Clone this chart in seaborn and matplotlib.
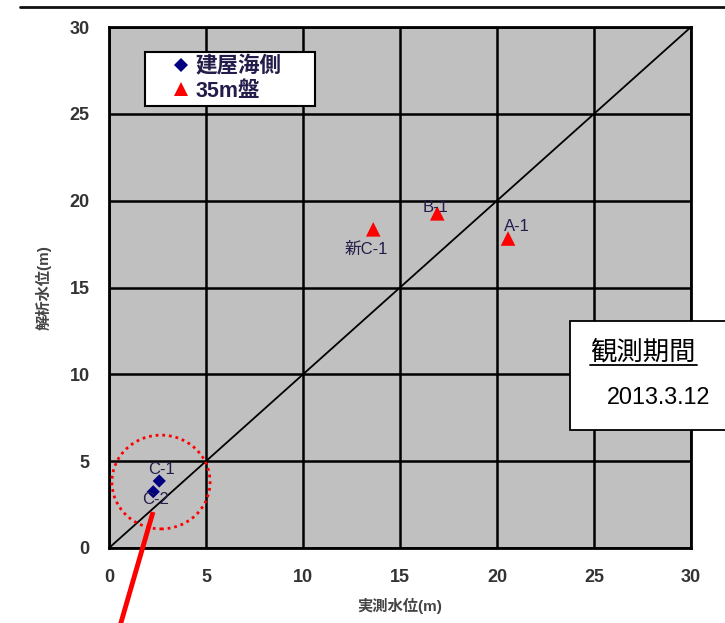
import matplotlib
matplotlib.use("Agg")
import matplotlib.pyplot as plt
from matplotlib.patches import Ellipse, Rectangle
from matplotlib.lines import Line2D
import seaborn as sns
import pandas as pd

# --- data -------------------------------------------------------------
groups = ["建屋海側", "35m盤"]
bldg_names = ["C-1", "C-2"]
bldg_measured = [2.59, 2.28]
bldg_analysed = [3.86, 3.24]
plat_names = ["新C-1", "B-1", "A-1"]
plat_measured = [13.62, 16.92, 20.57]
plat_analysed = [18.35, 19.27, 17.82]
ticks = [0, 5, 10, 15, 20, 25, 30]
x_label = "実測水位(m)"
y_label = "解析水位(m)"
period_title = "観測期間"
period_value = "2013.3.12"

df = pd.DataFrame({
    "measured": bldg_measured + plat_measured,
    "analysed": bldg_analysed + plat_analysed,
    "name": bldg_names + plat_names,
    "group": [groups[0]] * len(bldg_names) + [groups[1]] * len(plat_names),
})

# --- style ------------------------------------------------------------
sns.set_theme(style="white")
plt.rcParams["font.family"] = ["Liberation Sans", "Noto Sans CJK JP"]

W, H = 725, 623
fig = plt.figure(figsize=(W / 100, H / 100), dpi=100)
ax = fig.add_axes([109 / W, 75 / H, 582 / W, 521 / H])
ax.set_facecolor("#c0c0c0")

sns.scatterplot(
    data=df, x="measured", y="analysed", hue="group", style="group",
    palette={groups[0]: "#000080", groups[1]: "#ff0000"},
    markers={groups[0]: "D", groups[1]: "^"},
    size="group", sizes={groups[0]: 45, groups[1]: 110},
    edgecolor="none", linewidth=0, ax=ax, zorder=5, legend="full",
)

# y = x reference line
ax.plot([ticks[0], ticks[-1]], [ticks[0], ticks[-1]], color="black", lw=1.3, zorder=3)

ax.set_xlim(ticks[0], ticks[-1])
ax.set_ylim(ticks[0], ticks[-1])
ax.set_xticks(ticks)
ax.set_yticks(ticks)
ax.grid(True, color="black", lw=1.8, zorder=2)
ax.set_axisbelow(True)
for sp in ax.spines.values():
    sp.set_color("black")
    sp.set_linewidth(2)
ax.tick_params(length=0, labelsize=13, labelcolor="#333333")
ax.tick_params(axis="x", pad=15)
ax.tick_params(axis="y", pad=14)
for lab in ax.get_xticklabels() + ax.get_yticklabels():
    lab.set_fontweight("bold")

ax.set_xlabel(x_label, fontsize=11, color="#444444", fontweight="bold", labelpad=9)
ax.set_ylabel(y_label, fontsize=11, color="#444444", fontweight="bold", labelpad=13)

# point labels
offsets = {"C-1": (1.4, 8), "C-2": (1.4, -5.8), "新C-1": (-5, -14.4),
           "B-1": (-1.5, 4.5), "A-1": (6.5, 8.6)}
for _, r in df.iterrows():
    ax.annotate(r["name"], (r["measured"], r["analysed"]),
                xytext=offsets[r["name"]], textcoords="offset points",
                ha="center", va="center", fontsize=12, color="#241c4a", zorder=6)

# dotted circle around the building-side wells
ax.add_patch(Ellipse((2.68, 3.8), width=5.06, height=5.4, fill=False,
                     ec="red", lw=2, ls=(0, (1, 1.4)), zorder=7, clip_on=False))

# legend
sns.move_legend(
    ax, "upper left", bbox_to_anchor=(145 / W, 1 - 52 / H, 170 / W, 0.0),
    bbox_transform=fig.transFigure, mode="expand", title=None,
    frameon=True, fancybox=False, edgecolor="black", framealpha=1,
    fontsize=15.5, borderpad=0.2, labelspacing=0.16, handletextpad=-0.76,
    handlelength=2.9, borderaxespad=0,
)
leg = ax.get_legend()
leg.get_frame().set_linewidth(1.5)
for t in leg.get_texts():
    t.set_fontweight("bold")
    t.set_color("#241c4a")

# header rule
fig.add_artist(Line2D([20 / W, 1], [1 - 7 / H, 1 - 7 / H], color="#111111", lw=2))

# red pointer line
fig.add_artist(Line2D([153 / W, 120 / W], [1 - 512 / H, 1 - 626 / H],
                      color="red", lw=3.5, solid_capstyle="butt"))

# observation period box
fig.add_artist(Rectangle((570 / W, 1 - 430 / H), (W - 570 + 5) / W, 109 / H,
                         transform=fig.transFigure, fc="white", ec="black",
                         lw=1.3, zorder=10))
fig.text(643 / W, 1 - 352 / H, period_title, ha="center", va="center",
         fontsize=19, color="black", zorder=11)
fig.add_artist(Line2D([590 / W, 697 / W], [1 - 365 / H, 1 - 365 / H],
                      color="black", lw=1.3, zorder=11))
fig.text(659 / W, 1 - 398 / H, period_value, ha="center", va="center",
         fontsize=16.8, color="black", zorder=11)

fig.savefig("out.png", dpi=100)
